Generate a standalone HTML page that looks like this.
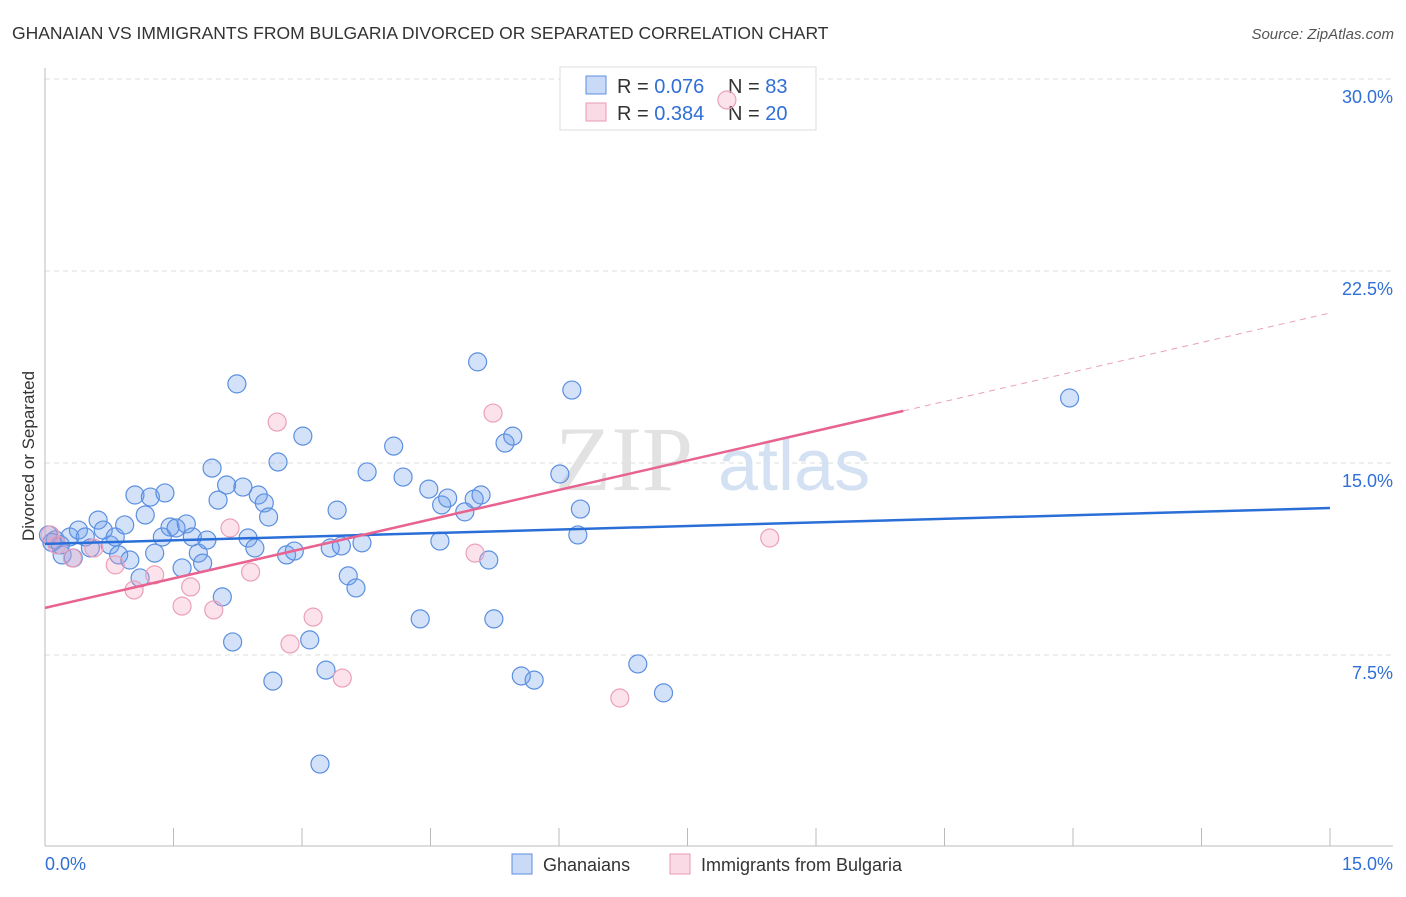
<!DOCTYPE html>
<html><head><meta charset="utf-8"><style>
body{margin:0;background:#fff;font-family:"Liberation Sans",sans-serif;}
</style></head><body>
<svg width="1406" height="892" viewBox="0 0 1406 892" xmlns="http://www.w3.org/2000/svg">
<text x="12" y="39" font-size="17.5" fill="#333">GHANAIAN VS IMMIGRANTS FROM BULGARIA DIVORCED OR SEPARATED CORRELATION CHART</text>
<text x="1394" y="39" font-size="15" fill="#555" font-style="italic" text-anchor="end">Source: ZipAtlas.com</text>
<g id="grid"></g>
<g>
<text x="555" y="490" font-size="92" font-family="Liberation Serif,serif" fill="#e2e2e2">ZIP</text>
<text x="718" y="490" font-size="72" fill="#d3e1f3">atlas</text>
</g>
<g id="axes"></g>
<g>
<rect x="560" y="67" width="256" height="63" fill="#fff" stroke="#ddd"/>
<rect x="586" y="76" width="20" height="18" fill="rgba(100,150,230,0.35)" stroke="#5b8fe0"/>
<rect x="586" y="103" width="20" height="18" fill="rgba(240,150,180,0.35)" stroke="#e89ab4"/>
<text x="617" y="93" font-size="20" fill="#333">R = <tspan fill="#2f6fd6">0.076</tspan></text>
<text x="728" y="93" font-size="20" fill="#333">N = <tspan fill="#2f6fd6">83</tspan></text>
<text x="617" y="120" font-size="20" fill="#333">R = <tspan fill="#2f6fd6">0.384</tspan></text>
<text x="728" y="120" font-size="20" fill="#333">N = <tspan fill="#2f6fd6">20</tspan></text>
</g>
<g id="pts"></g>
<g id="lines"></g>
<text x="34" y="456" font-size="17" fill="#333" transform="rotate(-90 34 456)" text-anchor="middle">Divorced or Separated</text>
<g>
<rect x="512" y="854" width="20" height="20" fill="rgba(100,150,230,0.35)" stroke="#5b8fe0"/>
<text x="543" y="871" font-size="18" fill="#333">Ghanaians</text>
<rect x="670" y="854" width="20" height="20" fill="rgba(240,150,180,0.35)" stroke="#e89ab4"/>
<text x="701" y="871" font-size="18" fill="#333">Immigrants from Bulgaria</text>
</g>
</svg>
<script>
const blueX=[.04,.12,.18,.20,.29,.33,.39,.47,.53,.62,.68,.76,.82,.86,.93,.99,1.05,1.11,1.17,1.23,1.28,1.37,1.40,1.46,1.53,1.60,1.65,1.72,1.79,1.84,1.89,1.95,2.02,2.07,2.12,2.19,2.24,2.31,2.37,2.45,2.49,2.56,2.61,2.66,2.72,2.82,2.91,3.01,3.09,3.21,3.28,3.33,3.41,3.46,3.54,3.63,3.70,3.76,4.07,4.18,4.38,4.48,4.61,4.63,4.70,4.90,5.01,5.05,5.09,5.18,5.24,5.37,5.46,5.56,5.71,6.01,6.15,6.22,6.25,6.92,7.22,11.96,.08];
const blueY=[12.19,12.0,11.8,11.41,12.11,11.29,12.38,12.11,11.68,12.77,12.38,11.8,12.11,11.41,12.58,11.21,13.75,10.51,12.97,13.67,11.48,12.11,13.83,12.5,12.46,10.9,12.62,12.11,11.48,11.09,11.99,14.8,13.55,9.77,14.14,8.01,18.09,14.06,12.07,11.68,13.75,13.44,12.89,6.48,15.04,11.41,11.56,16.05,8.09,3.24,6.91,11.68,13.16,11.76,10.59,10.12,11.88,14.65,15.66,14.45,8.91,13.98,11.95,13.36,13.63,13.09,13.59,18.95,13.75,11.21,8.91,15.78,16.05,6.68,6.52,14.57,17.85,12.19,13.2,7.15,6.02,17.54,11.9];
const pinkX=[.06,.14,.32,.57,.82,1.04,1.28,1.60,1.70,1.97,2.16,2.40,2.71,2.86,3.13,3.47,5.02,5.23,6.71,8.46,7.96];
const pinkY=[12.19,11.8,11.29,11.68,11.02,10.04,10.63,9.41,10.16,9.26,12.46,10.74,16.6,7.93,8.98,6.6,11.48,16.95,5.82,12.07,29.18];
const blueTrend=[11.84,13.24];
const pinkTrend=[9.34,20.86];
const pinkSolidEnd=10.02;
const yTicks=[7.5,15,22.5,30];
const NS="http://www.w3.org/2000/svg";
const X=v=>45+v/15*1285, Y=v=>847-v/7.5*192;
function mk(t,a,p){const e=document.createElementNS(NS,t);for(const k in a)e.setAttribute(k,a[k]);p.appendChild(e);return e;}
const grid=document.getElementById('grid'),axes=document.getElementById('axes'),pts=document.getElementById('pts'),lines=document.getElementById('lines');
yTicks.forEach(t=>{
 const l=mk('line',{x1:45,x2:1393,y1:Y(t),y2:Y(t),stroke:'#ddd','stroke-dasharray':'5,4'},grid);
 
 
 const tx=mk('text',{x:1393,y:Y(t)+24,'font-size':18,fill:'#2f6fd6','text-anchor':'end'},axes);
 tx.textContent=t.toFixed(1)+'%';
 
 
});
mk('line',{x1:45,x2:45,y1:68,y2:846,stroke:'#bbb'},axes);
mk('line',{x1:45,x2:1393,y1:846,y2:846,stroke:'#bbb'},axes);
for(let i=0;i<=10;i++){const l=mk('line',{x1:X(i*1.5),x2:X(i*1.5),y1:828,y2:846,stroke:'#bbb'},axes);
 
 }
const xl=mk('text',{x:45,y:870,'font-size':18,fill:'#2f6fd6'},axes);xl.textContent='0.0%';


const xr=mk('text',{x:1393,y:870,'font-size':18,fill:'#2f6fd6','text-anchor':'end'},axes);xr.textContent='15.0%';


blueX.forEach((v,i)=>{const c=mk('circle',{cx:X(v),cy:Y(blueY[i]),r:9,fill:'rgba(110,160,235,0.3)',stroke:'#5b8fe0','stroke-width':1.2},pts);
 
 });
pinkX.forEach((v,i)=>{const c=mk('circle',{cx:X(v),cy:Y(pinkY[i]),r:9,fill:'rgba(245,160,190,0.3)',stroke:'#eba0ba','stroke-width':1.2},pts);
 
 });
const bl=mk('line',{x1:X(0),y1:Y(blueTrend[0]),x2:X(15),y2:Y(blueTrend[1]),stroke:'#2a6fd8','stroke-width':2.5},lines);


const pAt=x=>pinkTrend[0]+(pinkTrend[1]-pinkTrend[0])*x/15;
const pl=mk('line',{x1:X(0),y1:Y(pAt(0)),x2:X(pinkSolidEnd),y2:Y(pAt(pinkSolidEnd)),stroke:'#e8638f','stroke-width':2.5},lines);


const pd=mk('line',{x1:X(pinkSolidEnd),y1:Y(pAt(pinkSolidEnd)),x2:X(15),y2:Y(pAt(15)),stroke:'#e8a0b8','stroke-width':1,'stroke-dasharray':'6,5'},lines);


</script>
</body></html>
